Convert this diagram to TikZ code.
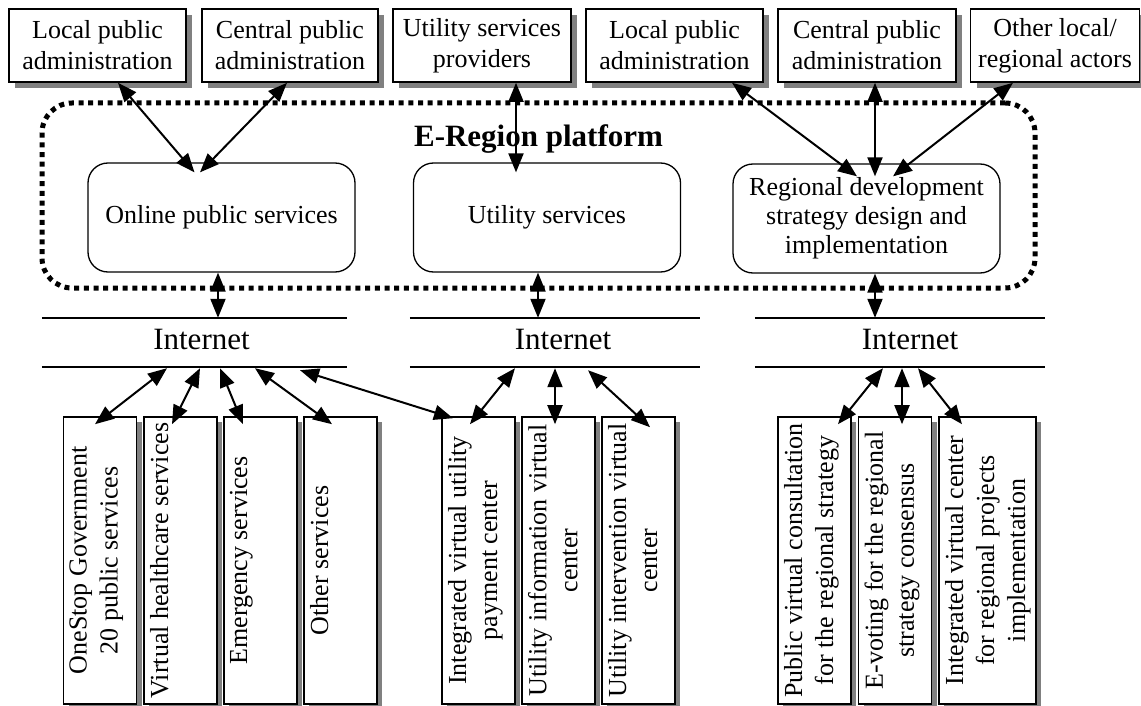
\documentclass[tikz,border=0pt]{standalone}
\usepackage{fontspec}
\setmainfont{Liberation Serif}
\usetikzlibrary{arrows.meta,shadows,calc}

% rotated, top-aligned text block for the tall channel boxes
\newcommand\sidetext[2]{\rotatebox{90}{\parbox[c][#1][t]{287pt}{\vspace*{6pt}\centering #2}}}

\begin{document}
\begin{tikzpicture}[x=1pt,y=-1pt,
  every node/.style={font=\fontsize{26}{31}\selectfont},
  actor/.style={draw, line width=1.6pt, fill=white, inner sep=0pt, minimum height=73pt, align=center,
    drop shadow={shadow xshift=6pt,shadow yshift=-6pt,fill=black!50,opacity=1}},
  service/.style={draw, line width=1.3pt, rounded corners=20pt, inner sep=0pt,
    minimum width=267pt, minimum height=109pt, align=center},
  platform/.style={draw, line width=5pt, dash pattern=on 5pt off 4.7pt, rounded corners=30pt,
    minimum width=993pt, minimum height=185pt, inner sep=0pt},
  net/.style={minimum width=290pt, minimum height=49pt, inner sep=0pt},
  netlabel/.style={anchor=base, font=\fontsize{31}{36}\selectfont},
  netline/.style={line width=1.6pt},
  channel/.style={draw, line width=1.6pt, fill=white, inner sep=0pt, minimum width=73pt, minimum height=287pt,
    drop shadow={shadow xshift=5pt,shadow yshift=-5pt,fill=black!50,opacity=1}},
  link/.style={line width=2pt, {Triangle[length=19pt,width=15pt]}-{Triangle[length=19pt,width=15pt]}}
]
\useasboundingbox (0,0) rectangle (1141,706);

% actors
\node[actor, minimum width=177pt] (lpa1) at (97.5,45.5) {Local public\\administration};
\node[actor, minimum width=176pt] (cpa1) at (290,45.5) {Central public\\administration};
\node[actor, minimum width=178pt] (usp) at (482,45.5) {Utility services\\providers};
\node[actor, minimum width=177pt] (lpa2) at (674.5,45.5) {Local public\\administration};
\node[actor, minimum width=178pt] (cpa2) at (867,45.5) {Central public\\administration};
\node[actor, minimum width=169pt] (other) at (1055,45.5) {Other local/\\regional actors};

% platform
\node[platform] (plat) at (538.5,195.5) {};
\node[anchor=base, font=\fontsize{31}{36}\selectfont\bfseries] (title) at (538.5,147) {E-Region platform};

\node[service] (ops) at (221.5,217.5) {Online public services};
\node[service] (us) at (547,217.5) {Utility services};
\node[service, font=\fontsize{26}{29}\selectfont] (rds) at (866.5,218.5) {Regional development\\strategy design and\\implementation};

% internet bands
\node[net, minimum width=305pt] (net1) at (194.5,342.5) {};
\node[net] (net2) at (555,342.5) {};
\node[net] (net3) at (900,342.5) {};
\foreach \n in {net1,net2,net3}{
  \draw[netline] (\n.north west) -- (\n.north east);
  \draw[netline] (\n.south west) -- (\n.south east);
}
\node[netlabel] (lab1) at (201.5,349) {Internet};
\node[netlabel] (lab2) at (563,349) {Internet};
\node[netlabel] (lab3) at (910,349) {Internet};

% channels
\node[channel] (s1) at (100,560.5) {\sidetext{73pt}{OneStop Government\\20 public services}};
\node[channel] (s2) at (180.5,560.5) {\sidetext{73pt}{Virtual healthcare services}};
\node[channel] (s3) at (260.5,560.5) {\sidetext{73pt}{Emergency services}};
\node[channel] (s4) at (340.5,560.5) {\sidetext{73pt}{Other services}};
\node[channel] (s5) at (478.5,560.5) {\sidetext{73pt}{Integrated virtual utility\\payment center}};
\node[channel] (s6) at (558.5,560.5) {\sidetext{73pt}{Utility information virtual\\center}};
\node[channel] (s7) at (638.5,560.5) {\sidetext{73pt}{Utility intervention virtual\\center}};
\node[channel] (s8) at (814.5,560.5) {\sidetext{73pt}{Public virtual consultation\\for the regional strategy}};
\node[channel] (s9) at (895,560.5) {\sidetext{73pt}{E-voting for the regional\\strategy consensus}};
\node[channel, minimum width=97pt] (s10) at (987.5,560.5) {\sidetext{97pt}{Integrated virtual center\\for regional projects\\implementation}};

% links: actors to platform services
\draw[link] ($(lpa1.south)+(20.5,0)$) -- ($(ops.north)+(-27,10)$);
\draw[link] ($(cpa1.south)+(-3,0)$) -- ($(ops.north)+(-21.5,10)$);
\draw[link] ($(usp.south)+(34,0)$) -- ($(us.north)+(-31,10)$);
\draw[link] ($(lpa2.south)+(57.5,0)$) -- ($(rds.north)+(-9.5,13)$);
\draw[link] ($(cpa2.south)+(8,0)$) -- ($(rds.north)+(8.5,13)$);
\draw[link] ($(other.south)+(-42,0)$) -- ($(rds.north)+(26.5,13)$);

% links: services to internet
\draw[link] ($(ops.south)+(-3.5,0)$) -- ($(net1.north)+(23.5,0)$);
\draw[link] ($(us.south)+(-9,0)$) -- ($(net2.north)+(-17,0)$);
\draw[link] ($(rds.south)+(8.5,0)$) -- ($(net3.north)+(-25,0)$);

% links: internet to channels
\draw[link] ($(net1.south)+(-27.5,1)$) -- ($(s1.north)+(-5,8)$);
\draw[link] ($(net1.south)+(5.5,1)$) -- ($(s2.north)+(-8.5,8)$);
\draw[link] ($(net1.south)+(25.5,1)$) -- ($(s3.north)+(-17.5,8)$);
\draw[link] ($(net1.south)+(60.5,1)$) -- ($(s4.north)+(-8.5,8)$);
\draw[link] ($(net1.south)+(105.5,3)$) -- ($(s5.north)+(-25.5,2)$);
\draw[link] ($(net2.south)+(-40,1)$) -- ($(s5.north)+(-8.5,8)$);
\draw[link] ($(net2.south)+(0,1)$) -- ($(s6.north)+(-3.5,8)$);
\draw[link] ($(net2.south)+(33,3)$) -- ($(s7.north)+(11.5,11)$);
\draw[link] ($(net3.south)+(-17,1)$) -- ($(s8.north)+(23.5,8)$);
\draw[link] ($(net3.south)+(2,1)$) -- ($(s9.north)+(7,8)$);
\draw[link] ($(net3.south)+(18,1)$) -- ($(s10.north)+(-25.5,8)$);
\end{tikzpicture}
\end{document}
